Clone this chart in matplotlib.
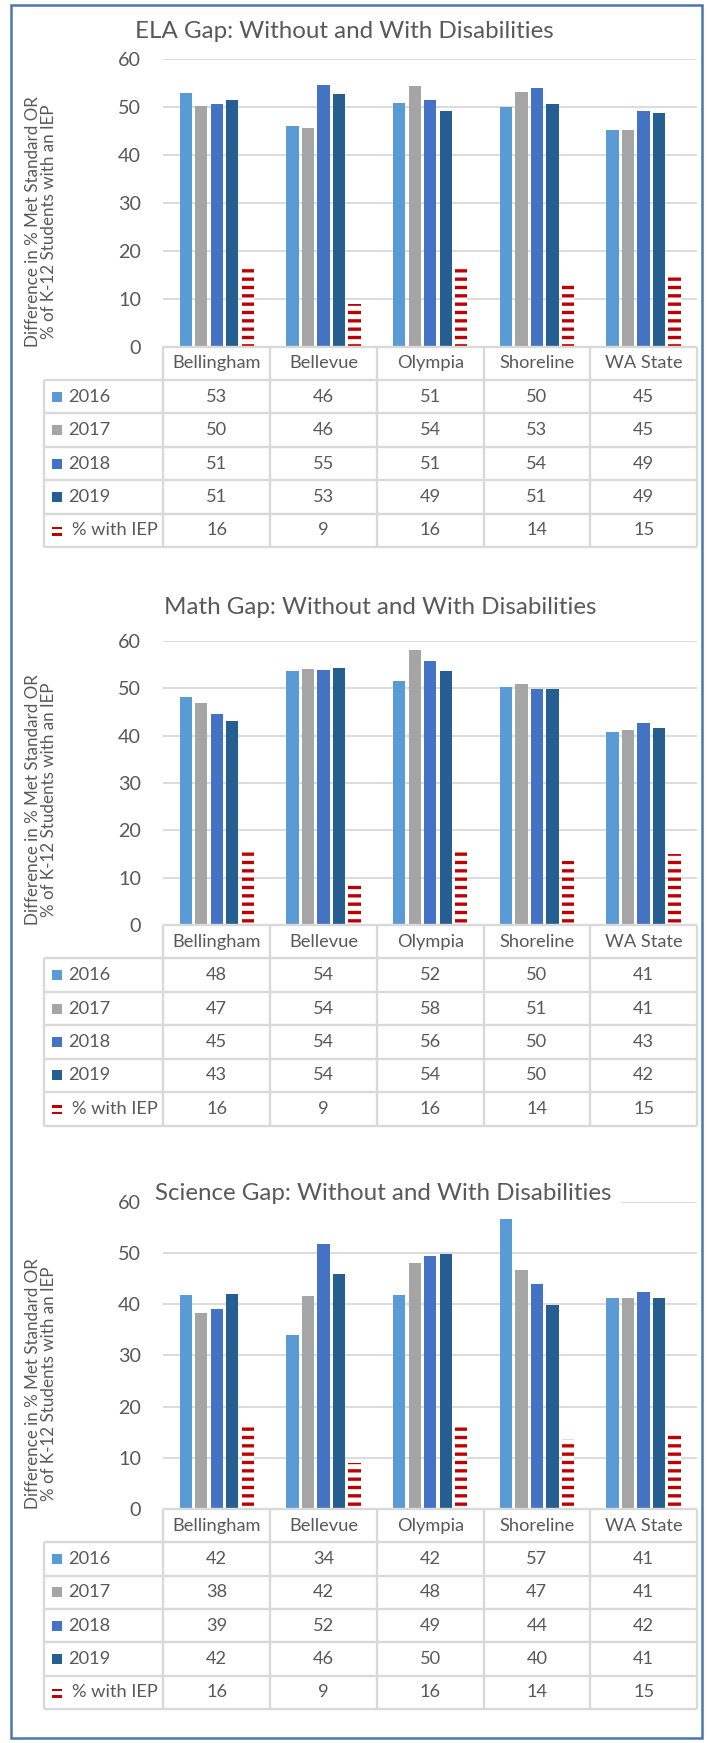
import matplotlib
matplotlib.use('Agg')
import matplotlib.pyplot as plt
from matplotlib.patches import Rectangle
from matplotlib.transforms import Affine2D, blended_transform_factory

plt.rcParams['font.family'] = ['Lato', 'DejaVu Sans']
plt.rcParams['hatch.linewidth'] = 2.4

# ---------------- data ----------------
categories = ["Bellingham", "Bellevue", "Olympia", "Shoreline", "WA State"]
series_names = ["2016", "2017", "2018", "2019", "% with IEP"]

iep_pct = [16.2, 9.0, 16.2, 13.6, 15.0]

ela_2016 = [52.8, 46.0, 50.8, 50.0, 45.2]
ela_2017 = [50.2, 45.6, 54.4, 53.1, 45.2]
ela_2018 = [50.6, 54.6, 51.4, 53.8, 49.1]
ela_2019 = [51.4, 52.6, 49.1, 50.6, 48.6]

math_2016 = [48.1, 53.6, 51.6, 50.2, 40.8]
math_2017 = [46.9, 54.1, 58.2, 50.9, 41.1]
math_2018 = [44.6, 53.8, 55.7, 49.8, 42.6]
math_2019 = [43.0, 54.2, 53.6, 49.8, 41.6]

sci_2016 = [41.7, 33.9, 41.8, 56.6, 41.1]
sci_2017 = [38.2, 41.6, 48.1, 46.6, 41.1]
sci_2018 = [39.1, 51.7, 49.4, 44.0, 42.3]
sci_2019 = [42.0, 45.8, 49.7, 39.8, 41.1]

titles = ["ELA Gap: Without and With Disabilities",
          "Math Gap: Without and With Disabilities",
          "Science Gap: Without and With Disabilities"]
ylabel_lines = ["Difference in % Met Standard OR", "% of K-12 Students with an IEP"]

chart_values = [
    [ela_2016, ela_2017, ela_2018, ela_2019, iep_pct],
    [math_2016, math_2017, math_2018, math_2019, iep_pct],
    [sci_2016, sci_2017, sci_2018, sci_2019, iep_pct],
]

# ---------------- style / layout ----------------
W, H = 710, 1743
series_colors = ["#5b9bd5", "#a5a5a5", "#4472c4", "#255e91", "#c00000"]
text_col = "#595959"
grid_col = "#d9d9d9"

# (title_x, title_y, plot_top, plot_bottom, table_bottom) in pixels
layouts = [
    (344, 32, 58.7, 346.7, 547.0),
    (380, 608, 641.0, 925.0, 1125.5),
    (383, 1193, 1201.7, 1509.0, 1709.0),
]
plot_left, plot_right = 163.3, 697.0
legend_left = 44.3
col_w = (plot_right - plot_left) / 5.0

fig = plt.figure(figsize=(W / 100, H / 100), dpi=100)
px = Affine2D().scale(1.0 / W, -1.0 / H).translate(0, 1) + fig.transFigure
renderer = fig.canvas.get_renderer()


def fx(x):
    return x / W


def fy(y):
    return 1 - y / H


def fit_size(text, target_px, base=10.0, **kw):
    t = fig.text(0, 0, text, fontsize=base, **kw)
    w = t.get_window_extent(renderer).width
    t.remove()
    return base * target_px / w


title_fs = fit_size(titles[0], 418)
ylab_fs = fit_size(ylabel_lines[0], 250)
table_fs = fit_size("Bellingham", 88)
tick_fs = fit_size("60", 23)
ylab_linespacing = 16.7 / (ylab_fs * 100 / 72.0)

step = 15.5 / col_w
bar_w = 12.3 / col_w

for ci in range(3):
    tx, ty, ptop, pbot, tbot = layouts[ci]
    vals = chart_values[ci]

    ax = fig.add_axes([fx(plot_left), fy(pbot), (plot_right - plot_left) / W, (pbot - ptop) / H])
    ax.set_xlim(-0.5, 4.5)
    ax.set_ylim(0, 60)
    ax.set_yticks(range(0, 61, 10))
    ax.set_xticks([])
    ax.tick_params(axis='y', length=0, pad=16, labelsize=tick_fs, labelcolor=text_col)
    ax.grid(axis='y', color=grid_col, linewidth=1.3)
    ax.set_axisbelow(True)
    for s in ax.spines.values():
        s.set_visible(False)

    xs = list(range(len(categories)))
    for si in range(5):
        pos = [x + (si - 2) * step for x in xs]
        if si < 4:
            ax.bar(pos, vals[si], width=bar_w, color=series_colors[si], linewidth=0)
        else:
            ax.bar(pos, vals[si], width=bar_w, facecolor='white',
                   edgecolor=series_colors[si], linewidth=0, hatch='--')

    # title
    fig.text(fx(tx), fy(ty), titles[ci], ha='center', va='center', fontsize=title_fs,
             color=text_col, zorder=5,
             bbox=dict(facecolor='white', edgecolor='none', boxstyle='square,pad=0.4'))

    # y label
    tr = blended_transform_factory(fig.transFigure, ax.transData)
    ax.text(fx(41), 0, "\n".join(ylabel_lines), transform=tr, rotation=90, ha='center',
            va='bottom', multialignment='center', fontsize=ylab_fs, color=text_col,
            linespacing=ylab_linespacing)

    # data table
    tax = fig.add_axes([fx(legend_left), fy(tbot), (plot_right - legend_left) / W, (tbot - pbot) / H])
    xmin = -0.5 - (plot_left - legend_left) / col_w
    tax.set_xlim(xmin, 4.5)
    tax.set_ylim(6, 0)
    tax.axis('off')
    row_px = (tbot - pbot) / 6.0
    lkw = dict(color=grid_col, linewidth=1.7, clip_on=False, solid_capstyle='butt')
    tax.plot([-0.5, 4.5], [0, 0], **lkw)
    for r in range(1, 7):
        tax.plot([xmin, 4.5], [r, r], **lkw)
    for c in range(6):
        tax.plot([c - 0.5, c - 0.5], [0, 6], **lkw)
    tax.plot([xmin, xmin], [1, 6], **lkw)

    for j, cat in enumerate(categories):
        tax.text(j, 0.5, cat, ha='center', va='center', fontsize=table_fs, color=text_col)
    for si in range(5):
        yc = si + 1.5
        kx = xmin + 8.0 / col_w
        kw_ = 10.0 / col_w
        if si < 4:
            kh = 10.0 / row_px
            tax.add_patch(Rectangle((kx, yc - kh / 2), kw_, kh,
                                    facecolor=series_colors[si], linewidth=0))
            tax.text(xmin + 24.0 / col_w, yc, series_names[si], ha='left', va='center',
                     fontsize=table_fs, color=text_col)
        else:
            sh = 2.7 / row_px
            for off in (-2.2, 4.3):
                tax.add_patch(Rectangle((kx, yc + off / row_px - sh / 2), kw_, sh,
                                        facecolor=series_colors[si], linewidth=0))
            tax.text(xmin + 28.0 / col_w, yc, series_names[si], ha='left', va='center',
                     fontsize=table_fs, color=text_col)
        for j in range(5):
            tax.text(j, yc, str(int(vals[si][j] + 0.5)), ha='center', va='center',
                     fontsize=table_fs, color=text_col)

# outer border
fig.patches.append(Rectangle((11, 5), 691, 1733, transform=px, fill=False,
                             edgecolor='#4a77ae', linewidth=1.8, figure=fig))

fig.savefig('out.png', dpi=100, facecolor='white')
